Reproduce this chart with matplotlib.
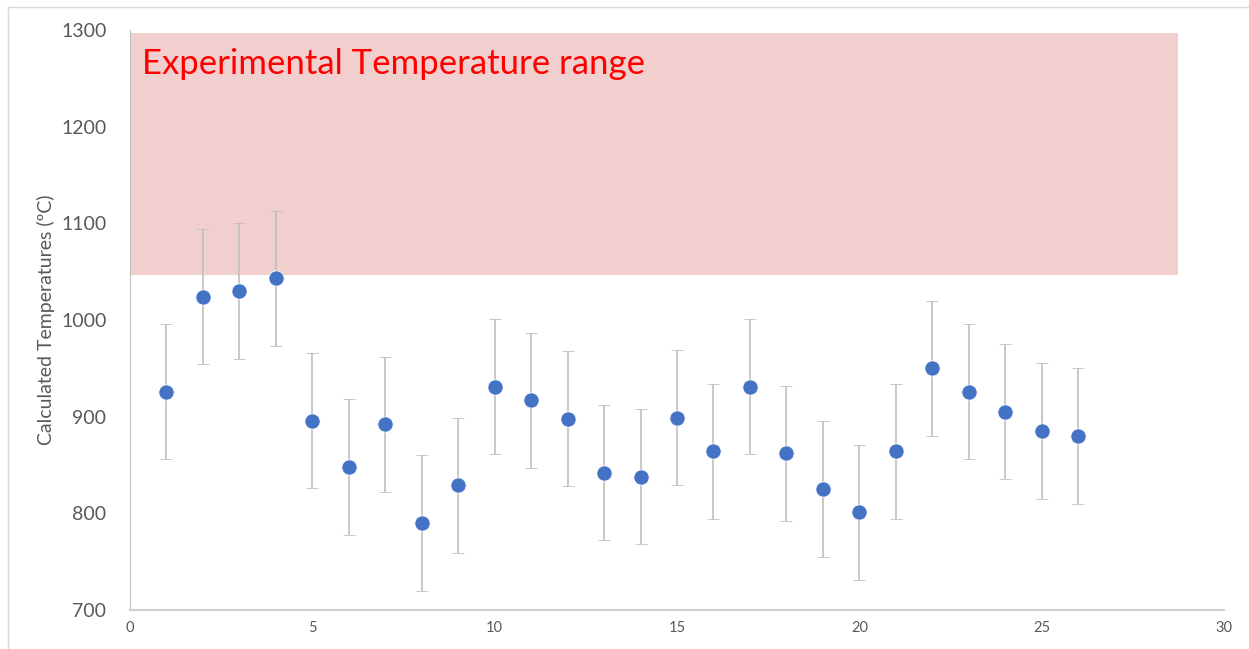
import matplotlib
matplotlib.use("Agg")
import matplotlib.pyplot as plt
from matplotlib.lines import Line2D

plt.rcParams["font.family"] = ["Lato", "DejaVu Sans"]

# dados
amostra = list(range(1, 27))
temp = [926, 1024, 1030, 1043, 896, 848, 892, 790, 829, 931,
        917, 898, 842, 838, 899, 864, 931, 862, 825, 801,
        864, 950, 926, 905, 885, 880]
erro = [70] * 26

faixa_x = [0, 28.75]
faixa_y = [1047, 1297]

fig = plt.figure(figsize=(12.49, 6.49), dpi=100)
ax = fig.add_axes([0.1041, 0.0601, 0.8759, 0.8937])

ax.fill_between(faixa_x, faixa_y[0], faixa_y[1], color="#F2CFCF", lw=0, zorder=0)
ax.text(0.33, 1265, "Experimental Temperature range", color="#FF0000",
        fontsize=25, va="center", ha="left", zorder=1)

ax.errorbar(amostra, temp, yerr=erro, fmt="o", color="#4472C4",
            markersize=11, markeredgecolor="white", markeredgewidth=0.6,
            ecolor="#BFBFBF", elinewidth=1.2, capsize=4, capthick=1.2, zorder=3)

ax.set_xlim(0, 30)
ax.set_ylim(700, 1300)
ax.set_xticks(range(0, 31, 5))
ax.set_yticks(range(700, 1301, 100))
ax.tick_params(axis="x", length=0, labelsize=10.5, colors="#595959", pad=8)
ax.tick_params(axis="y", length=0, labelsize=14, colors="#595959", pad=17)
ax.set_ylabel("Calculated Temperatures (ºC)", fontsize=14, color="#595959", labelpad=4)

for s in ["top", "right"]:
    ax.spines[s].set_visible(False)
ax.spines["left"].set_color("#BFBFBF")
ax.spines["bottom"].set_color("#D0D0D0")
ax.spines["bottom"].set_linewidth(1.5)

# moldura da figura
fig.add_artist(Line2D([8 / 1249, 8 / 1249], [0, 1 - 7 / 649], transform=fig.transFigure,
                      color="#D9D9D9", lw=1))
fig.add_artist(Line2D([8 / 1249, 1], [1 - 7 / 649, 1 - 7 / 649], transform=fig.transFigure,
                      color="#D9D9D9", lw=1))

fig.savefig("out.png", dpi=100)
